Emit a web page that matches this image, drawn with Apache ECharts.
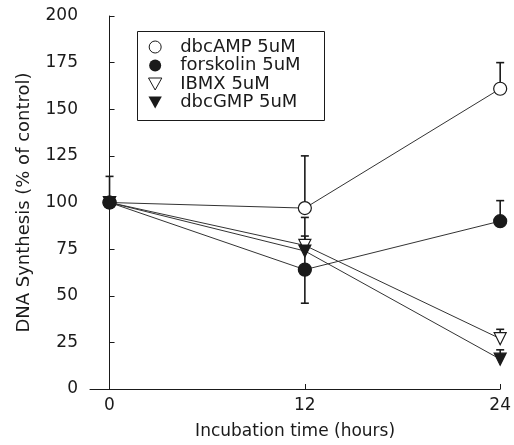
<!DOCTYPE html>
<html>
<head>
<meta charset="utf-8">
<script src="https://cdn.jsdelivr.net/npm/echarts@6/dist/echarts.min.js"></script>
<style>
  html, body { margin: 0; padding: 0; background: #fff; }
  #chart { width: 514px; height: 445px; }
</style>
</head>
<body>
<div id="chart"></div>
<script>
var hours = [0, 12, 24];
var yTicks = [0, 25, 50, 75, 100, 125, 150, 175, 200];

var names = ['dbcAMP 5uM', 'forskolin 5uM', 'IBMX 5uM', 'dbcGMP 5uM'];
var dbcAMP = [100, 97, 161];
var forskolin = [100, 64, 90];
var ibmx = [100, 77, 27];
var dbcGMP = [100, 74, 16];

// error bars (up / down from the mean)
var dbcAMPUp = [14, 28, 14];
var dbcAMPDown = [0, 0, 0];
var forskolinUp = [0, 18, 11];
var forskolinDown = [0, 18, 0];
var ibmxUp = [0, 15, 5];
var ibmxDown = [0, 0, 0];
var dbcGMPUp = [0, 0, 5];
var dbcGMPDown = [0, 0, 0];

var ink = '#1a1a1a';
var font = 'DejaVu Sans';
var triDown = 'path://M0,0 L10,0 L5,9 Z';

function errData(vals, up, down) {
    var out = [];
    for (var i = 0; i < hours.length; i++) {
        if (up[i] > 0 || down[i] > 0) {
            out.push([hours[i], vals[i] - down[i], vals[i] + up[i], vals[i]]);
        }
    }
    return out;
}

var errors = []
    .concat(errData(dbcAMP, dbcAMPUp, dbcAMPDown))
    .concat(errData(forskolin, forskolinUp, forskolinDown))
    .concat(errData(ibmx, ibmxUp, ibmxDown))
    .concat(errData(dbcGMP, dbcGMPUp, dbcGMPDown));

function renderErr(params, api) {
    var x = api.value(0);
    var lo = api.coord([x, api.value(1)]);
    var hi = api.coord([x, api.value(2)]);
    var mean = api.value(3);
    var w = 4;
    var st = { stroke: ink, lineWidth: 1.6 };
    var kids = [{ type: 'line', shape: { x1: lo[0], y1: lo[1], x2: hi[0], y2: hi[1] }, style: st }];
    if (api.value(2) !== mean) {
        kids.push({ type: 'line', shape: { x1: hi[0] - w, y1: hi[1], x2: hi[0] + w, y2: hi[1] }, style: st });
    }
    if (api.value(1) !== mean) {
        kids.push({ type: 'line', shape: { x1: lo[0] - w, y1: lo[1], x2: lo[0] + w, y2: lo[1] }, style: st });
    }
    return { type: 'group', children: kids };
}

function pairs(vals) {
    return hours.map(function (h, i) { return [h, vals[i]]; });
}

function lineSeries(name, vals, symbol, size, fill, rotate, z) {
    return {
        name: name,
        type: 'line',
        data: pairs(vals),
        symbol: symbol,
        symbolSize: size,
        symbolRotate: rotate,
        z: z,
        lineStyle: { color: '#333', width: 1 },
        itemStyle: { color: fill, borderColor: ink, borderWidth: 1.2 },
        emphasis: { disabled: true }
    };
}

var chart = echarts.init(document.getElementById('chart'));
var op = {
    backgroundColor: '#fff',
    animation: false,
    grid: { left: 90, right: 12, top: 16, bottom: 56 },
    // legend frame
    graphic: [{
        type: 'rect',
        left: 135,
        top: 29,
        shape: { width: 187, height: 89 },
        style: { fill: 'none', stroke: ink, lineWidth: 1 },
        silent: true
    }],
    legend: {
        orient: 'vertical',
        left: 148,
        top: 29,
        padding: [9, 0, 0, 0],
        itemWidth: 14,
        itemHeight: 12,
        itemGap: 0.5,
        selectedMode: false,
        textStyle: { fontFamily: font, fontSize: 18, color: ink, lineHeight: 15, padding: [0, 0, 0, 13] },
        data: [
            { name: names[0], icon: 'circle', itemStyle: { color: '#fff', borderColor: ink, borderWidth: 1 } },
            { name: names[1], icon: 'circle', itemStyle: { color: ink, borderWidth: 0 } },
            { name: names[2], icon: triDown, itemStyle: { color: '#fff', borderColor: ink, borderWidth: 1 } },
            { name: names[3], icon: triDown, itemStyle: { color: ink, borderWidth: 0 } }
        ]
    },
    xAxis: {
        type: 'value',
        min: -1.2,
        max: 24,
        name: 'Incubation time (hours)',
        nameLocation: 'middle',
        nameGap: 34,
        nameTextStyle: { fontFamily: font, fontSize: 17, color: ink },
        splitLine: { show: false },
        axisLine: { lineStyle: { color: ink, width: 1 } },
        axisTick: { inside: true, length: 5, customValues: hours, lineStyle: { color: ink } },
        axisLabel: { customValues: hours, fontFamily: font, fontSize: 17, color: ink, margin: 8 }
    },
    yAxis: {
        type: 'value',
        min: yTicks[0],
        max: yTicks[yTicks.length - 1],
        interval: 25,
        name: 'DNA Synthesis (% of control)',
        nameLocation: 'middle',
        nameGap: 57,
        nameTextStyle: { fontFamily: font, fontSize: 18, color: ink },
        splitLine: { show: false },
        axisLine: { show: true, lineStyle: { color: ink, width: 1 } },
        axisTick: { show: true, inside: true, length: 5, lineStyle: { color: ink } },
        axisLabel: { fontFamily: font, fontSize: 17, color: ink, margin: 12 }
    },
    series: [
        {
            type: 'custom',
            renderItem: renderErr,
            data: errors,
            z: 1,
            silent: true
        },
        lineSeries(names[0], dbcAMP, 'circle', 13, '#fff', 0, 3),
        lineSeries(names[1], forskolin, 'circle', 13, ink, 0, 6),
        lineSeries(names[2], ibmx, 'triangle', 12, '#fff', 180, 4),
        lineSeries(names[3], dbcGMP, 'triangle', 12, ink, 180, 5)
    ]
};
chart.setOption(op);
</script>
</body>
</html>
